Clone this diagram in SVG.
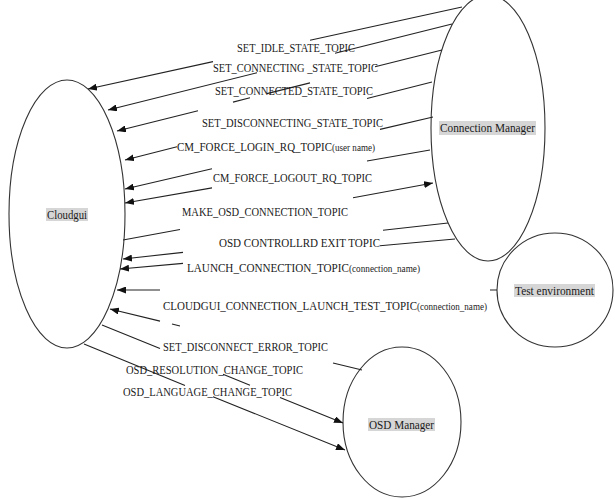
<svg xmlns="http://www.w3.org/2000/svg" width="615" height="499" viewBox="0 0 615 499">
<style>
.node{fill:#fff;stroke:#333;stroke-width:1.1}
.hl{fill:#d6d6d6}
.nt{font-family:"Liberation Serif","Times New Roman",serif;font-size:12px;fill:#1a1a1a}
.c{fill:none;stroke:#222;stroke-width:1.1}
.a{marker-end:url(#arr)}
.lb{font-family:"Liberation Serif","Times New Roman",serif;font-size:11.5px;fill:#1a1a1a}
.sm{font-size:9.5px}
</style>
<defs>
<marker id="arr" markerWidth="9" markerHeight="7" refX="9" refY="3.5" orient="auto" markerUnits="userSpaceOnUse">
<path d="M0,0 L9,3.5 L0,7 z" fill="#111"/>
</marker>
</defs>
<rect width="615" height="499" fill="#fff"/>
<g id="cloudgui">
<ellipse class="node" cx="67" cy="214" rx="58" ry="134"/>
<rect class="hl" x="46" y="208" width="42" height="13"/>
<text class="nt" x="47" y="218.5" textLength="40" lengthAdjust="spacingAndGlyphs">Cloudgui</text>
</g>
<g id="connection-manager">
<ellipse class="node" cx="488" cy="128" rx="57" ry="133"/>
<rect class="hl" x="439" y="121" width="97" height="14"/>
<text class="nt" x="440" y="132" textLength="95" lengthAdjust="spacingAndGlyphs">Connection Manager</text>
</g>
<g id="test-environment">
<ellipse class="node" cx="555" cy="290" rx="58" ry="57"/>
<rect class="hl" x="514" y="284" width="81" height="13"/>
<text class="nt" x="515" y="294.5" textLength="79" lengthAdjust="spacingAndGlyphs">Test environment</text>
</g>
<g id="osd-manager">
<ellipse class="node" cx="402" cy="422" rx="59" ry="75"/>
<rect class="hl" x="368" y="418" width="67" height="13"/>
<text class="nt" x="369" y="428.5" textLength="65" lengthAdjust="spacingAndGlyphs">OSD Manager</text>
</g>
<g id="connectors">
<path class="c a" d="M462,7 L310,40.3 M213,61.6 L88,89"/>
<path class="c a" d="M452,24 L335,53.3 M257,72.8 L108,110"/>
<path class="c a" d="M442,50 L375,66.7 M310,82.9 L267,93.6 M250,97.8 L233,102.1 M198,110.8 L117,131"/>
<path class="c a" d="M432,82 L367,98.5 M177,146.8 L125,160"/>
<path class="c a" d="M433,117 L380,129.4 M212,168.7 L125,189"/>
<path class="c a" d="M430,150 L367,161 M212,187.9 L125,203"/>
<path class="c a" d="M123,240 L180,229.5 M353,197.7 L433,183"/>
<path class="c a" d="M448,223 L383,230.2 M183,252.4 L123,259"/>
<path class="c a" d="M455,239 L380,245.7 M183,263.4 L120,269"/>
<path class="c a" d="M497,290 L490,290 M160,290 L117,290"/>
<path class="c a" d="M362,370 L333,363 M180,326 L172,324 M160,321.1 L110,309"/>
<path class="c a" d="M102,325 L160,348.6 M223,374.2 L250,385.2 M280,397.4 L343,423"/>
<path class="c a" d="M84,344 L185,385.4 M213,396.7 L345,450"/>
</g>
<g id="labels">
<text class="lb" x="237" y="52" textLength="118" lengthAdjust="spacingAndGlyphs">SET_IDLE_STATE_TOPIC</text>
<text class="lb" x="213" y="72" textLength="165" lengthAdjust="spacingAndGlyphs">SET_CONNECTING _STATE_TOPIC</text>
<text class="lb" x="215" y="95" textLength="158" lengthAdjust="spacingAndGlyphs">SET_CONNECTED_STATE_TOPIC</text>
<text class="lb" x="202" y="127" textLength="181" lengthAdjust="spacingAndGlyphs">SET_DISCONNECTING_STATE_TOPIC</text>
<text class="lb" x="177" y="151" textLength="198" lengthAdjust="spacingAndGlyphs">CM_FORCE_LOGIN_RQ_TOPIC<tspan class="sm">(user name)</tspan></text>
<text class="lb" x="213" y="182" textLength="159" lengthAdjust="spacingAndGlyphs">CM_FORCE_LOGOUT_RQ_TOPIC</text>
<text class="lb" x="182" y="216" textLength="166" lengthAdjust="spacingAndGlyphs">MAKE_OSD_CONNECTION_TOPIC</text>
<text class="lb" x="219" y="247" textLength="161" lengthAdjust="spacingAndGlyphs">OSD CONTROLLRD EXIT TOPIC</text>
<text class="lb" x="187" y="272" textLength="233" lengthAdjust="spacingAndGlyphs">LAUNCH_CONNECTION_TOPIC<tspan class="sm">(connection_name)</tspan></text>
<text class="lb" x="163" y="310" textLength="324" lengthAdjust="spacingAndGlyphs">CLOUDGUI_CONNECTION_LAUNCH_TEST_TOPIC<tspan class="sm">(connection_name)</tspan></text>
<text class="lb" x="163" y="351" textLength="165" lengthAdjust="spacingAndGlyphs">SET_DISCONNECT_ERROR_TOPIC</text>
<text class="lb" x="126" y="374" textLength="177" lengthAdjust="spacingAndGlyphs">OSD_RESOLUTION_CHANGE_TOPIC</text>
<text class="lb" x="123" y="396" textLength="169" lengthAdjust="spacingAndGlyphs">OSD_LANGUAGE_CHANGE_TOPIC</text>
</g>
</svg>
